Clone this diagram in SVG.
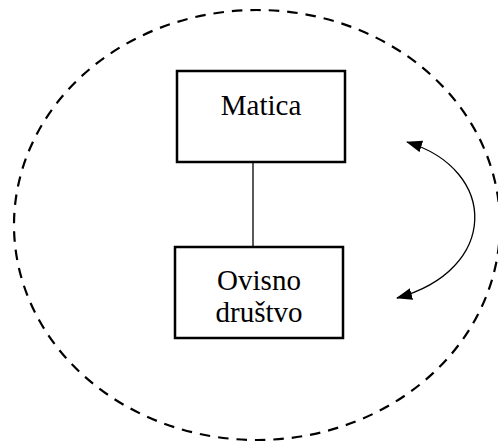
<svg xmlns="http://www.w3.org/2000/svg" width="498" height="443" viewBox="0 0 498 443">
<style>
.box{fill:#fff;stroke:#000;stroke-width:2.5}
.lbl{font-family:"Liberation Serif","Times New Roman",serif;font-size:29px;fill:#000;text-anchor:middle}
.conn{fill:none;stroke:#000;stroke-width:1.3}
</style>
<defs>
<marker id="ah" viewBox="0 0 16 12" refX="15" refY="6" markerWidth="16" markerHeight="12" markerUnits="userSpaceOnUse" orient="auto-start-reverse">
<path d="M0,0 L16,6 L0,12 Z" fill="#000"/>
</marker>
</defs>
<g id="boundary">
<ellipse cx="257" cy="225" rx="243" ry="215" fill="none" stroke="#000" stroke-width="2.2" stroke-dasharray="10.5 8"/>
</g>
<g id="connectors">
<line class="conn" x1="253" y1="162" x2="253" y2="247"/>
<path class="conn" d="M407,142 C499,170 499,270 397,298" marker-start="url(#ah)" marker-end="url(#ah)"/>
</g>
<g id="matica">
<rect class="box" x="177" y="71" width="168" height="91"/>
<text class="lbl" x="261" y="115">Matica</text>
</g>
<g id="ovisno">
<rect class="box" x="175" y="247" width="168" height="91"/>
<text class="lbl" x="259" y="290">Ovisno</text>
<text class="lbl" x="259" y="322">društvo</text>
</g>
</svg>
